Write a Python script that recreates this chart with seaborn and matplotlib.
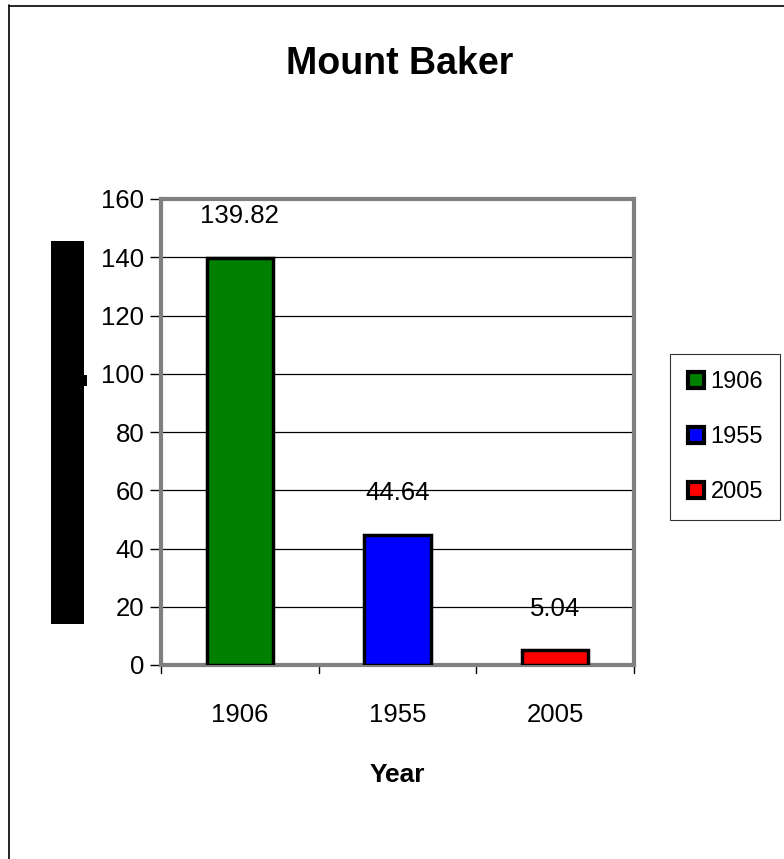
import matplotlib
matplotlib.use("Agg")
import matplotlib.pyplot as plt
import seaborn as sns
import pandas as pd
from matplotlib.patches import Rectangle
from matplotlib.lines import Line2D

years = ["1906", "1955", "2005"]
values = [139.82, 44.64, 5.04]
labels = ["139.82", "44.64", "5.04"]
colors = ["#008000", "#0000FF", "#FF0000"]
yticks = [0, 20, 40, 60, 80, 100, 120, 140, 160]

sns.set_style("white")
plt.rcParams['font.family'] = ['Liberation Sans', 'DejaVu Sans']
plt.rcParams['text.color'] = 'black'
plt.rcParams['xtick.color'] = 'black'
plt.rcParams['ytick.color'] = 'black'
plt.rcParams['axes.labelcolor'] = 'black'

df = pd.DataFrame({"Year": years, "Value": values})

fig = plt.figure(figsize=(7.84, 8.59), dpi=100)
ax = fig.add_axes([161/784, 1-665/859, (634-161)/784, (665-199)/859])

sns.barplot(data=df, x="Year", y="Value", hue="Year", palette=colors,
            saturation=1, dodge=False, width=0.42, edgecolor="black", linewidth=2.5,
            legend=False, ax=ax, zorder=3)

FS = 18.5
ax.set_ylim(0, 160)
ax.set_xlim(-0.5, 2.5)
ax.set_yticks(yticks)
ax.set_yticklabels([str(t) for t in yticks], fontsize=FS)
ax.set_xticks([0, 1, 2])
ax.set_xticklabels(years, fontsize=FS)
ax.tick_params(axis='x', length=0, pad=27)
ax.tick_params(axis='y', length=8, width=1, color='black', pad=4, direction='out', left=True)
for t in [-0.5, 0.5, 1.5, 2.5]:
    ax.plot([t, t], [0, -0.018], transform=ax.get_xaxis_transform(), color='black',
            lw=1, clip_on=False)

ax.yaxis.grid(True, color='black', linewidth=0.9, zorder=0)
ax.set_axisbelow(True)
for s in ax.spines.values():
    s.set_visible(True)
    s.set_color('#808080')
    s.set_linewidth(3)

ax.set_ylabel("")
ax.set_xlabel("Year", fontsize=19, fontweight='bold', labelpad=26)

for i, (v, lab) in enumerate(zip(values, labels)):
    ax.annotate(lab, (i, v), xytext=(0, 30), textcoords='offset points',
                ha='center', va='center', fontsize=FS)

fig.suptitle("Mount Baker", fontsize=27, fontweight='bold', x=0.51, y=1-64/859, va='center')

LFS = 17
handles = [Line2D([], [], marker='s', linestyle='none', markersize=12,
                  markerfacecolor=c, markeredgecolor='black', markeredgewidth=3)
           for c in colors]
leg = fig.legend(handles, years, loc='upper left', bbox_to_anchor=(670/784, 1-354/859),
                 fontsize=LFS, frameon=True, fancybox=False, edgecolor='black',
                 handlelength=0.75, handletextpad=0.25, labelspacing=1.4,
                 borderpad=0.72, borderaxespad=0)
leg.get_frame().set_linewidth(0.8)

# black block at left
fig.patches.append(Rectangle((51/784, 1-624/859), 33/784, (624-241)/859,
                             transform=fig.transFigure, facecolor='black', edgecolor='none'))
fig.patches.append(Rectangle((84/784, 1-386/859), 3/784, 11/859,
                             transform=fig.transFigure, facecolor='black', edgecolor='none'))
# outer border
fig.add_artist(Line2D([8.5/784, 8.5/784], [0, 1-5/859], transform=fig.transFigure,
                      color='black', lw=1.2))
fig.add_artist(Line2D([8.5/784, 1], [1-5.5/859, 1-5.5/859], transform=fig.transFigure,
                      color='black', lw=1.2))

fig.savefig("out.png", dpi=100)
